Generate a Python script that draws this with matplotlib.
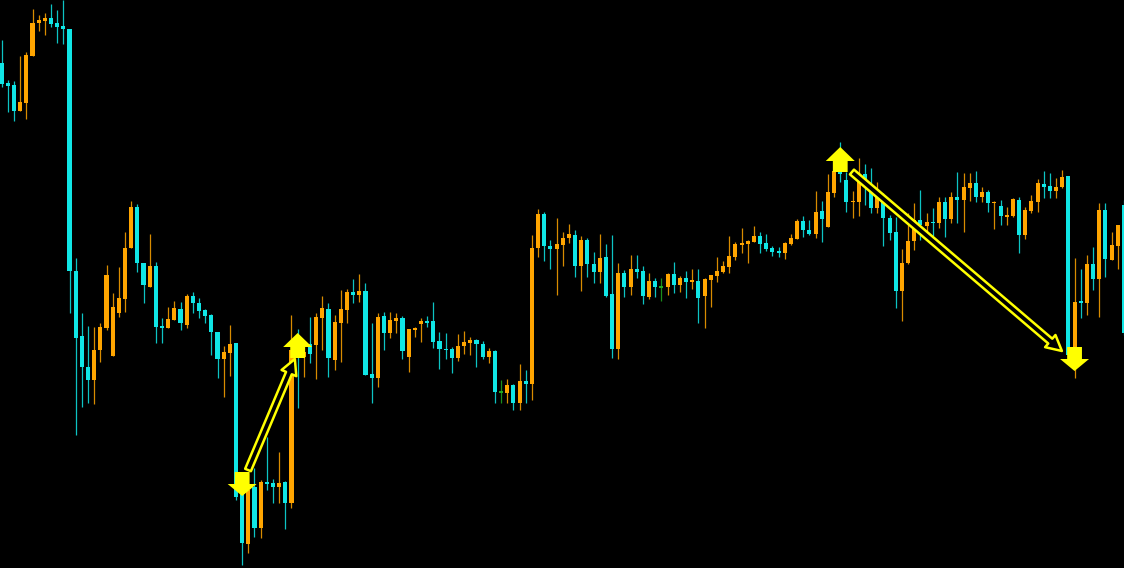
import numpy as np
import matplotlib
matplotlib.use('Agg')
import matplotlib.pyplot as plt
from matplotlib.patches import FancyArrowPatch

# candle data (price units, oldest first)
opens = [537, 517, 515, 489, 497, 544, 577, 579, 582, 577, 574,
         571, 329, 264, 233, 220, 250, 272, 244, 287, 301,
         352, 393, 337, 313, 334, 274, 272, 280, 291, 275,
         304, 297, 290, 285, 268, 241, 247, 257, 115, 56,
         113, 72, 118, 117, 113, 118, 97, 245, 243, 256,
         255, 282, 291, 240, 277, 290, 308, 305, 309, 226,
         222, 284, 267, 279, 282, 243, 270, 276, 279, 279,
         259, 251, 251, 242, 254, 257, 260, 256, 243, 249,
         208, 207, 215, 197, 219, 216, 352, 386, 354, 351,
         355, 362, 365, 334, 360, 336, 328, 343, 306, 251,
         327, 313, 331, 329, 303, 319, 313, 313, 326, 315,
         322, 318, 319, 304, 320, 324, 328, 333, 343, 355,
         356, 358, 364, 357, 352, 349, 347, 356, 361, 379,
         370, 366, 389, 373, 407, 429, 420, 398, 398, 426,
         410, 392, 401, 382, 368, 309, 337, 359, 380, 374,
         378, 377, 398, 381, 403, 400, 412, 417, 403, 408,
         397, 394, 383, 384, 400, 365, 389, 398, 416, 414,
         409, 413, 424, 243, 299, 297, 336, 321, 390, 340,
         354, 395]
highs = [560, 520, 519, 544, 548, 591, 585, 587, 596, 590, 600,
         571, 342, 287, 274, 273, 277, 335, 307, 333, 368,
         399, 396, 337, 366, 338, 282, 293, 299, 298, 306,
         308, 302, 291, 286, 268, 254, 275, 257, 122, 127,
         132, 120, 163, 121, 148, 119, 285, 271, 255, 283,
         287, 304, 297, 285, 310, 311, 321, 326, 317, 277,
         287, 288, 288, 287, 284, 271, 273, 282, 284, 298,
         268, 267, 253, 266, 269, 263, 261, 259, 252, 250,
         220, 221, 216, 236, 230, 365, 391, 388, 360, 382,
         368, 376, 370, 364, 362, 348, 366, 356, 365, 337,
         330, 345, 345, 334, 327, 322, 322, 327, 338, 324,
         329, 331, 331, 322, 325, 343, 339, 364, 358, 372,
         360, 374, 368, 366, 354, 353, 358, 366, 381, 384,
         380, 409, 399, 426, 432, 458, 428, 409, 442, 436,
         432, 418, 407, 385, 383, 351, 387, 397, 410, 387,
         392, 403, 403, 408, 428, 427, 427, 429, 413, 410,
         399, 400, 393, 402, 403, 393, 405, 421, 429, 427,
         422, 430, 424, 342, 331, 345, 353, 397, 397, 368,
         375, 400]
lows = [513, 488, 479, 489, 481, 544, 569, 565, 573, 557, 556,
        287, 165, 193, 197, 196, 238, 270, 244, 283, 288,
        352, 328, 297, 313, 257, 257, 272, 280, 270, 272,
        287, 282, 277, 245, 222, 203, 224, 100, 35, 47,
        63, 62, 110, 97, 97, 71, 92, 192, 223, 237,
        221, 250, 223, 230, 238, 277, 297, 298, 225, 197,
        213, 250, 262, 267, 241, 228, 263, 258, 273, 252,
        231, 241, 227, 239, 246, 245, 233, 241, 237, 197,
        197, 197, 190, 190, 197, 200, 343, 339, 331, 305,
        334, 357, 323, 309, 323, 317, 317, 303, 242, 241,
        303, 305, 322, 296, 301, 303, 299, 305, 307, 308,
        302, 311, 277, 272, 293, 318, 327, 327, 340, 347,
        337, 358, 347, 349, 344, 343, 341, 355, 361, 363,
        365, 362, 358, 373, 403, 418, 388, 382, 384, 395,
        387, 387, 354, 360, 292, 279, 336, 350, 360, 367,
        364, 372, 363, 377, 377, 368, 399, 398, 398, 388,
        371, 375, 375, 383, 347, 361, 387, 388, 402, 402,
        402, 412, 240, 222, 282, 285, 310, 283, 323, 340,
        331, 265]
closes = [516, 514, 489, 498, 545, 577, 580, 582, 576, 573, 571,
          329, 262, 233, 220, 250, 273, 325, 293, 302, 352,
          393, 337, 315, 334, 273, 272, 281, 292, 277, 304,
          297, 289, 284, 268, 241, 248, 256, 103, 57, 110,
          72, 118, 116, 113, 117, 97, 250, 242, 248, 246,
          283, 292, 242, 278, 291, 308, 305, 309, 225, 222,
          283, 267, 280, 282, 249, 271, 272, 279, 277, 258,
          251, 250, 242, 254, 258, 260, 256, 243, 249, 208,
          208, 215, 197, 219, 216, 352, 386, 354, 351, 356,
          362, 366, 334, 360, 336, 328, 342, 304, 251, 327,
          313, 331, 328, 304, 319, 313, 313, 326, 315, 322,
          318, 320, 302, 321, 325, 329, 334, 344, 356, 357,
          359, 364, 356, 351, 348, 347, 357, 362, 379, 370,
          366, 388, 381, 408, 429, 426, 398, 399, 425, 418,
          392, 403, 382, 367, 309, 337, 359, 380, 375, 378,
          377, 398, 381, 403, 400, 413, 417, 403, 408, 397,
          398, 384, 385, 401, 365, 390, 399, 417, 413, 409,
          413, 423, 245, 298, 297, 336, 321, 390, 341, 355,
          375, 267]

# signal arrows (candle index, tip price)
down_idx = [39, 174]
down_tip = [104, 229]
up_idx = [48, 136]
up_tip = [267, 453]

# hollow swing arrows: start (idx, price) -> end (idx, price)
swing_x0 = [39.95, 137.9]
swing_y0 = [130, 428]
swing_x1 = [47.55, 171.95]
swing_y1 = [241, 249]

bull_col = '#FFA500'
bear_col = '#10E6E6'
doji_col = '#20A820'
sig_col = '#FFFF00'

o = np.array(opens, dtype=float)
h = np.array(highs, dtype=float)
l = np.array(lows, dtype=float)
c = np.array(closes, dtype=float)
x = np.arange(len(o))

cols = []
for i in range(len(o)):
    if c[i] > o[i]:
        cols.append(bull_col)
    elif c[i] < o[i]:
        cols.append(bear_col)
    else:
        cols.append(doji_col)

fig = plt.figure(figsize=(11.24, 5.68), dpi=100, facecolor='black')
ax = fig.add_axes([0, 0, 1, 1])
ax.set_facecolor('black')

# wicks
ax.vlines(x, l, h, colors=cols, lw=0.9, alpha=0.85, zorder=2)
# bodies
body_bot = np.minimum(o, c)
body_h = np.maximum(np.abs(c - o), 1.3)
ax.bar(x, body_h, bottom=body_bot - (body_h - np.abs(c - o)) / 2, width=0.66,
       color=cols, linewidth=0, zorder=3)

# swing arrows (double line look)
for i in range(len(swing_x0)):
    arr = FancyArrowPatch((swing_x0[i], swing_y0[i]), (swing_x1[i], swing_y1[i]),
                          arrowstyle='simple,head_length=1.1,head_width=1.15,tail_width=0.45',
                          mutation_scale=10, shrinkA=0, shrinkB=0,
                          fc='black', ec=sig_col, lw=1.8, zorder=5)
    ax.add_patch(arr)

# signal block arrows
for i in range(len(down_idx)):
    ax.arrow(down_idx[i], down_tip[i] + 24, 0, -24, width=2.4, head_width=4.7,
             head_length=12, length_includes_head=True, color=sig_col, lw=0, zorder=6)
for i in range(len(up_idx)):
    ax.arrow(up_idx[i], up_tip[i] - 25, 0, 25, width=2.4, head_width=4.7,
             head_length=14, length_includes_head=True, color=sig_col, lw=0, zorder=6)

ax.set_xlim(-0.276, 182.02)
ax.set_ylim(32, 600)
ax.axis('off')

plt.savefig('out.png', dpi=100, facecolor='black')
